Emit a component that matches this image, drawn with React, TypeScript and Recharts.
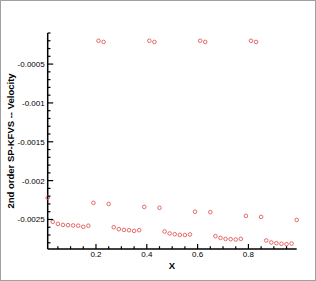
import React from 'react';
import { ScatterChart, Scatter, XAxis, YAxis, Label } from 'recharts';

const X_VALUES = [
  0.01, 0.03, 0.05, 0.07, 0.09, 0.11, 0.13, 0.15, 0.17, 0.19,
  0.21, 0.23, 0.25, 0.27, 0.29, 0.31, 0.33, 0.35, 0.37, 0.39,
  0.41, 0.43, 0.45, 0.47, 0.49, 0.51, 0.53, 0.55, 0.57, 0.59,
  0.61, 0.63, 0.65, 0.67, 0.69, 0.71, 0.73, 0.75, 0.77, 0.79,
  0.81, 0.83, 0.85, 0.87, 0.89, 0.91, 0.93, 0.95, 0.97, 0.99,
];

const VELOCITY = [
  -0.00222, -0.00253, -0.002557, -0.00257, -0.002573, -0.002577, -0.00258, -0.002595, -0.00258, -0.002286,
  -0.0002, -0.000215, -0.0023, -0.0026, -0.002625, -0.002634, -0.002638, -0.002647, -0.002638, -0.002338,
  -0.0002, -0.000215, -0.00235, -0.002655, -0.00268, -0.00269, -0.002698, -0.0027, -0.002693, -0.0024,
  -0.0002, -0.000215, -0.002406, -0.002715, -0.002737, -0.00275, -0.002754, -0.002758, -0.00275, -0.002454,
  -0.0002, -0.000215, -0.002467, -0.00277, -0.002796, -0.002805, -0.002813, -0.002818, -0.00281, -0.002505,
];

const X_TICKS = [0.05, 0.1, 0.15, 0.2, 0.25, 0.3, 0.35, 0.4, 0.45, 0.5, 0.55, 0.6, 0.65, 0.7, 0.75, 0.8, 0.85, 0.9, 0.95];
const X_MAJOR = [0.2, 0.4, 0.6, 0.8];
const Y_MAJOR = [-0.0005, -0.001, -0.0015, -0.002, -0.0025];
// minor ticks every 0.0001 between -0.0001 and -0.0028
const Y_TICKS = Array.from({ length: 28 }, (_, i) => -Math.round((i + 1) * 10) / 100000);

const data = X_VALUES.map((x, i) => ({ x, v: VELOCITY[i] }));

const FONT = '"Liberation Sans", Arial, Helvetica, sans-serif';
const MARKER = '#e25a5a';
const AXIS_X = 47.7;
const AXIS_Y = 249;

const isMajor = (v: number, list: number[]) => list.some(m => Math.abs(m - v) < 1e-9);

const XTick = (props: any) => {
  const { x, payload } = props;
  const major = isMajor(payload.value, X_MAJOR);
  return (
    <g>
      <line x1={x} x2={x} y1={AXIS_Y} y2={AXIS_Y - (major ? 5 : 2.8)} stroke="#000" strokeWidth={1.2} />
      {major && (
        <text x={x} y={AXIS_Y + 8} textAnchor="middle" fontSize={8} fontFamily={FONT} fill="#000">
          {String(payload.value)}
        </text>
      )}
    </g>
  );
};

const YTick = (props: any) => {
  const { y, payload } = props;
  const major = isMajor(payload.value, Y_MAJOR);
  return (
    <g>
      <line x1={AXIS_X} x2={AXIS_X + (major ? 5.5 : 2.8)} y1={y} y2={y} stroke="#000" strokeWidth={1.2} />
      {major && (
        <text x={AXIS_X - 3} y={y + 3} textAnchor="end" fontSize={8} fontFamily={FONT} fill="#000">
          {String(payload.value)}
        </text>
      )}
    </g>
  );
};

const Ring = (props: any) => (
  <circle cx={props.cx} cy={props.cy} r={1.8} fill="none" stroke={MARKER} strokeWidth={0.9} />
);

export default function App() {
  return (
    <div style={{ position: 'absolute', left: 0, top: 0, width: 316, height: 281, background: '#fff' }}>
      <ScatterChart width={316} height={281} margin={{ top: 33, right: 19.3, bottom: 0, left: 0 }}>
        <XAxis
          type="number"
          dataKey="x"
          domain={[0.01, 0.99]}
          ticks={X_TICKS}
          interval={0}
          height={32}
          tickSize={0}
          tickMargin={0}
          tickLine={false}
          tick={<XTick />}
          axisLine={{ stroke: '#000', strokeWidth: 1.5 }}
        >
          <Label
            content={() => (
              <text x={172} y={268.5} textAnchor="middle" fontSize={9.5} fontWeight="bold" fontFamily={FONT} fill="#000">
                X
              </text>
            )}
          />
        </XAxis>
        <YAxis
          type="number"
          dataKey="v"
          domain={[-0.00288, -0.0001]}
          ticks={Y_TICKS}
          interval={0}
          width={AXIS_X}
          tickSize={0}
          tickMargin={0}
          tickLine={false}
          tick={<YTick />}
          axisLine={{ stroke: '#000', strokeWidth: 1.5 }}
        >
          <Label
            content={() => (
              <text
                x={14}
                y={141}
                transform="rotate(-90 14 141)"
                textAnchor="middle"
                fontSize={9.5}
                fontWeight="bold"
                fontFamily={FONT}
                fill="#000"
              >
                2nd order SP-KFVS -- Velocity
              </text>
            )}
          />
        </YAxis>
        <Scatter data={data} shape={<Ring />} isAnimationActive={false} />
      </ScatterChart>
      <div
        style={{
          position: 'absolute', left: 0, top: 0, width: 316, height: 281,
          boxSizing: 'border-box', border: '1px solid #a0a0a0', pointerEvents: 'none',
        }}
      />
    </div>
  );
}
